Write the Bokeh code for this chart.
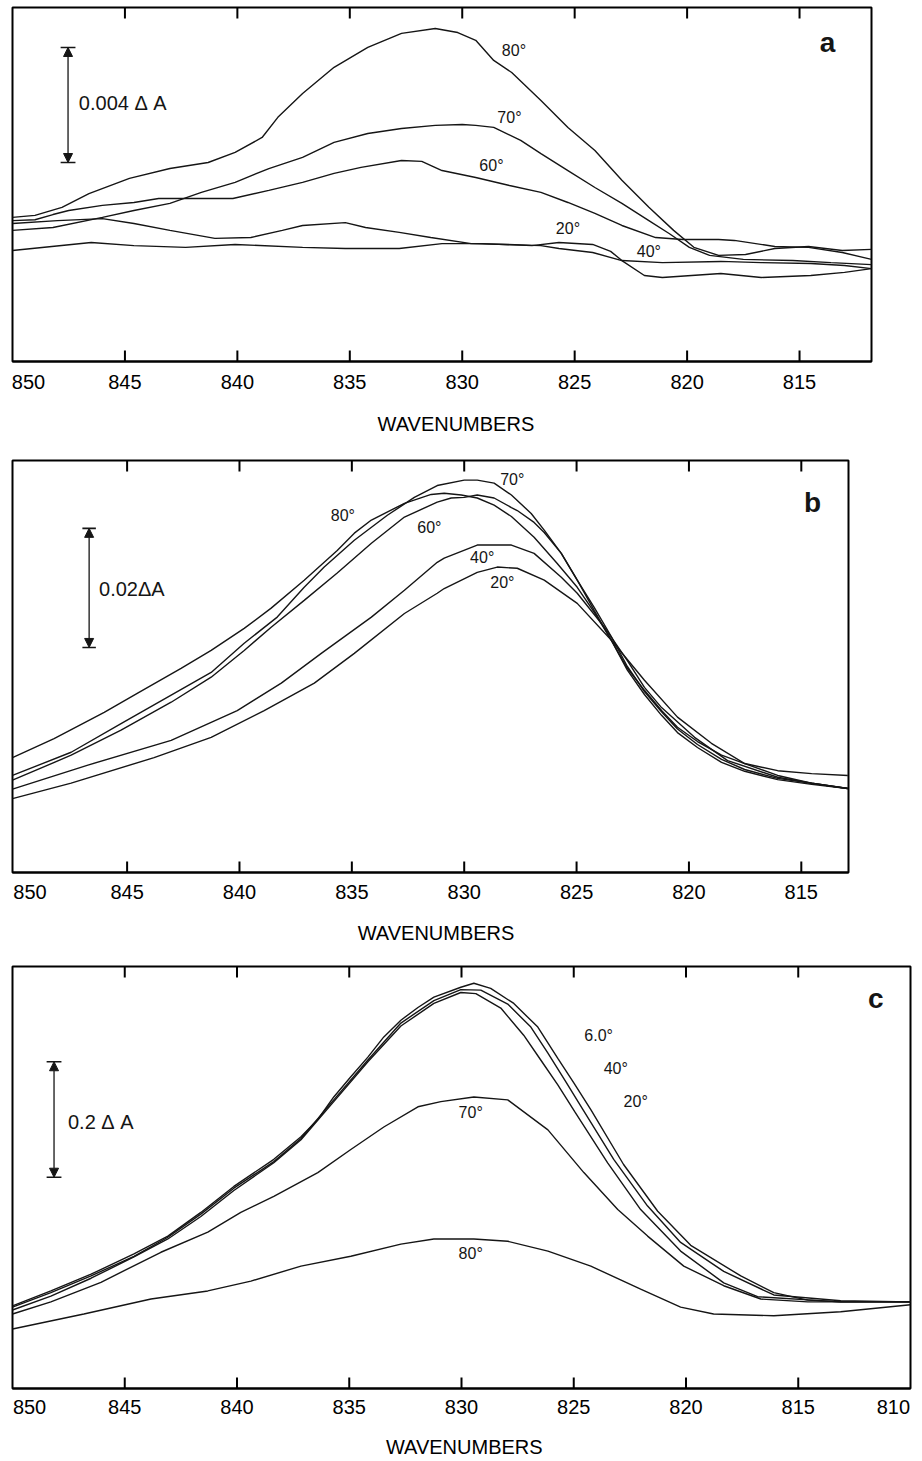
from bokeh.plotting import figure
from bokeh.layouts import column
from bokeh.models import Range1d, FixedTicker, Arrow, NormalHead
from bokeh.core.properties import value
from bokeh.embed import file_html
from bokeh.resources import INLINE

# ---------------- data: panel a (mΔA above frame bottom) ----------------
A_WN_80 = [850.0, 849.0, 847.8, 846.6, 844.8, 843.0, 841.3, 840.1, 838.9, 838.2, 837.1, 835.7, 834.2, 832.7, 831.2, 830.2,
           829.4, 828.6, 827.8, 826.5, 825.3, 824.1, 822.9, 821.7, 820.6, 819.7, 818.6, 817.4, 816.1, 814.6, 813.1, 811.8]
A_80 = [5.01, 5.08, 5.36, 5.84, 6.37, 6.71, 6.92, 7.27, 7.79, 8.49, 9.32, 10.23, 10.92, 11.41, 11.58, 11.44,
        11.17, 10.47, 10.05, 9.08, 8.14, 7.34, 6.30, 5.36, 4.56, 3.97, 3.69, 3.72, 3.93, 4.00, 3.86, 3.90]
A_WN_70 = [850.0, 848.2, 846.0, 844.6, 843.0, 841.6, 840.1, 838.6, 837.1, 835.7, 834.2, 832.7, 831.2, 830.0, 829.4, 828.6,
           827.4, 826.5, 825.3, 824.1, 822.9, 821.7, 820.8, 819.9, 819.0, 817.5, 815.3, 813.6, 811.8]
A_70 = [4.56, 4.66, 5.01, 5.25, 5.50, 5.88, 6.23, 6.71, 7.10, 7.62, 7.93, 8.10, 8.21, 8.24, 8.21, 8.14,
        7.69, 7.23, 6.64, 6.05, 5.50, 4.90, 4.45, 3.97, 3.69, 3.55, 3.51, 3.44, 3.37]
A_WN_60 = [850.0, 849.0, 848.2, 847.5, 846.0, 844.6, 843.5, 841.6, 840.2, 838.6, 837.1, 835.7, 834.5, 832.7, 831.8, 830.9,
           829.4, 827.9, 826.5, 825.3, 824.1, 822.9, 821.4, 820.2, 818.6, 817.9, 816.1, 814.6, 813.1, 811.8]
A_60 = [4.90, 4.93, 5.11, 5.25, 5.43, 5.53, 5.67, 5.67, 5.67, 5.95, 6.23, 6.54, 6.75, 6.99, 6.96, 6.64,
        6.40, 6.12, 5.88, 5.53, 5.15, 4.73, 4.31, 4.24, 4.24, 4.21, 4.00, 3.97, 3.79, 3.55]
A_WN_40 = [850.0, 848.0, 846.0, 844.6, 843.0, 841.0, 839.4, 838.0, 837.1, 835.2, 834.3, 832.8, 831.4, 829.6, 828.0, 826.5,
           825.7, 824.2, 822.9, 821.1, 818.5, 816.7, 814.5, 813.0, 811.8]
A_40 = [4.80, 4.90, 4.97, 4.80, 4.56, 4.28, 4.31, 4.56, 4.73, 4.83, 4.66, 4.49, 4.31, 4.10, 4.07, 4.03,
        3.93, 3.79, 3.51, 3.44, 3.48, 3.44, 3.41, 3.34, 3.23]
A_WN_20 = [850.0, 846.5, 844.6, 842.3, 840.1, 837.1, 835.2, 832.8, 830.9, 829.1, 826.9, 825.7, 824.2, 823.4, 822.9, 821.9,
           821.1, 819.8, 818.5, 816.7, 814.5, 813.0, 811.8]
A_20 = [3.86, 4.14, 4.03, 3.97, 4.07, 3.97, 3.93, 3.93, 4.10, 4.10, 4.03, 4.14, 4.07, 3.83, 3.51, 2.99,
        2.92, 2.99, 3.06, 2.92, 2.99, 3.10, 3.23]

# ---------------- data: panel b (mΔA above frame bottom) ----------------
B_WN_80 = [850.1, 848.25, 846.02, 844.55, 842.60, 841.26, 839.79, 838.59, 837.12, 835.65, 834.89, 834.13, 832.66, 831.47,
           830.89, 830.13, 829.42, 828.67, 827.90, 826.89, 825.86, 824.97, 824.21, 823.45, 822.74, 821.98, 821.22, 820.51,
           819.62, 818.55, 817.52, 816.05, 814.54, 812.93]
B_80 = [19.3, 22.5, 26.9, 30.1, 34.3, 37.3, 41.0, 44.4, 49.1, 54.1, 57.0, 59.2, 62.0, 63.5,
        63.7, 63.4, 62.9, 61.7, 59.8, 56.3, 51.9, 47.9, 43.7, 39.0, 34.3, 30.6, 27.2, 24.4,
        22.0, 19.7, 18.3, 17.1, 16.6, 16.3]
B_WN_70 = [850.1, 847.49, 845.27, 843.04, 841.26, 839.79, 838.32, 837.12, 836.23, 834.89, 833.42, 832.22, 831.20, 830.00,
           829.42, 828.67, 827.90, 827.02, 826.44, 825.68, 824.97, 824.21, 823.45, 822.74, 821.98, 821.22, 820.51, 819.62,
           818.55, 817.52, 816.05, 814.54, 812.93]
B_70 = [16.3, 20.2, 25.0, 29.8, 33.6, 38.5, 42.9, 47.9, 51.3, 55.8, 60.0, 63.0, 65.0, 65.9,
        65.9, 65.4, 63.4, 60.3, 57.5, 53.6, 49.1, 44.5, 39.6, 34.6, 30.4, 27.0, 24.1, 21.5,
        19.0, 17.3, 15.8, 15.0, 14.1]
B_WN_60 = [850.1, 847.49, 845.27, 843.04, 841.26, 839.79, 838.59, 837.12, 835.65, 834.13, 832.66, 831.20, 830.58, 830.00,
           829.42, 828.67, 827.90, 827.64, 826.89, 826.44, 825.68, 824.97, 824.21, 823.45, 822.74, 821.98, 821.22, 820.51,
           819.62, 818.55, 817.52, 816.05, 814.54, 812.93]
B_60 = [15.5, 19.7, 23.9, 28.6, 32.8, 37.3, 41.2, 45.7, 50.3, 55.3, 59.7, 62.2, 62.9, 63.0,
        63.4, 62.9, 61.3, 60.8, 58.8, 57.1, 53.6, 49.1, 44.0, 39.0, 34.0, 29.9, 26.4, 23.5,
        21.0, 18.5, 17.0, 15.6, 14.8, 14.1]
B_WN_40 = [850.1, 846.78, 843.04, 840.10, 838.14, 836.36, 834.13, 832.66, 831.20, 830.89, 829.42, 827.90, 826.89, 825.68,
           824.97, 823.76, 822.74, 821.98, 821.22, 819.75, 818.28, 816.05, 814.54, 812.93]
B_40 = [14.0, 18.0, 22.2, 27.2, 31.8, 36.8, 42.9, 47.4, 52.1, 52.8, 55.0, 55.0, 53.6, 49.6,
        46.9, 41.2, 35.6, 31.1, 27.7, 22.7, 18.8, 16.0, 15.0, 14.1]
B_WN_20 = [850.1, 847.49, 843.80, 841.26, 838.90, 836.67, 834.89, 832.66, 831.20, 830.89, 829.42, 828.53, 827.64, 826.44,
           824.97, 823.45, 821.98, 820.51, 819.00, 817.52, 816.05, 814.54, 812.93]
B_20 = [12.4, 15.0, 19.3, 22.7, 27.2, 31.8, 36.8, 43.5, 46.9, 47.7, 50.4, 51.3, 51.1, 49.1,
        45.2, 39.0, 32.3, 26.1, 21.7, 18.3, 16.3, 15.0, 14.1]

# ---------------- data: panel c (ΔA above frame bottom) ----------------
C_WN_60 = [850.0, 848.29, 846.50, 844.59, 843.08, 841.61, 840.14, 838.36, 837.15, 836.40, 835.69, 834.93, 834.17, 833.46,
           832.70, 831.94, 831.23, 830.03, 829.45, 828.70, 827.67, 826.60, 825.71, 824.99, 824.24, 822.78, 821.26, 819.79,
           817.56, 816.09, 814.58, 813.11, 810.0]
C_60 = [0.143, 0.169, 0.198, 0.233, 0.264, 0.305, 0.350, 0.397, 0.436, 0.466, 0.505, 0.540, 0.574, 0.609,
        0.638, 0.660, 0.678, 0.695, 0.702, 0.693, 0.667, 0.626, 0.572, 0.529, 0.483, 0.388, 0.307, 0.248,
        0.195, 0.166, 0.153, 0.150, 0.150]
C_WN_40 = [850.0, 848.29, 846.50, 844.59, 843.08, 841.61, 840.14, 838.36, 837.15, 835.69, 834.17, 832.70, 831.23, 830.03,
           829.14, 827.94, 826.91, 826.15, 825.35, 824.59, 823.22, 821.71, 820.24, 818.32, 816.09, 813.11, 810.0]
C_40 = [0.141, 0.166, 0.195, 0.229, 0.262, 0.302, 0.347, 0.393, 0.433, 0.500, 0.569, 0.633, 0.672, 0.691,
        0.690, 0.666, 0.626, 0.581, 0.531, 0.483, 0.397, 0.316, 0.253, 0.203, 0.162, 0.152, 0.150]
C_WN_20 = [850.0, 848.29, 846.50, 844.59, 843.08, 841.61, 840.14, 838.36, 837.15, 835.69, 834.17, 832.70, 831.23, 830.03,
           829.36, 828.25, 827.23, 826.47, 825.71, 824.95, 823.49, 822.02, 820.24, 818.32, 816.81, 813.11, 810.0]
C_20 = [0.136, 0.160, 0.191, 0.228, 0.259, 0.298, 0.343, 0.391, 0.431, 0.497, 0.566, 0.628, 0.667, 0.686,
        0.684, 0.659, 0.612, 0.569, 0.526, 0.479, 0.391, 0.310, 0.238, 0.183, 0.159, 0.150, 0.150]
C_WN_70 = [850.0, 848.29, 846.06, 843.39, 841.30, 839.83, 838.36, 836.40, 834.93, 833.46, 831.94, 830.92, 829.45, 827.94,
           826.15, 824.55, 823.04, 821.71, 820.10, 818.32, 816.67, 814.58, 810.0]
C_70 = [0.129, 0.150, 0.184, 0.236, 0.271, 0.305, 0.333, 0.374, 0.414, 0.453, 0.488, 0.497, 0.505, 0.500,
        0.448, 0.374, 0.310, 0.264, 0.212, 0.178, 0.155, 0.150, 0.150]
C_WN_80 = [850.0, 846.82, 843.83, 841.30, 839.38, 837.15, 834.93, 832.70, 831.23, 829.45, 827.94, 826.15, 824.24, 822.02,
           820.24, 818.77, 816.09, 813.11, 810.0]
C_80 = [0.103, 0.129, 0.155, 0.169, 0.186, 0.212, 0.229, 0.250, 0.259, 0.259, 0.255, 0.238, 0.212, 0.172,
        0.141, 0.129, 0.126, 0.133, 0.145]

TICKS_AB = [850, 845, 840, 835, 830, 825, 820, 815]
TICKS_C = [850, 845, 840, 835, 830, 825, 820, 815, 810]
XLABEL = "WAVENUMBERS"

FONT = "Liberation Sans"
INK = "#151515"
NB = "\u00a0"
TICK_PX = 11


def panel(frame_w, frame_h, bl, bt, br, bb, xr, ymax, ticks, edge_shift, xlabel,
          label_standoff, xlabel_standoff):
    p = figure(frame_width=frame_w, frame_height=frame_h,
               x_range=Range1d(*xr), y_range=Range1d(0, ymax),
               output_backend="svg", toolbar_location=None, y_axis_location=None,
               min_border_left=bl, min_border_right=br, min_border_top=bt, min_border_bottom=bb)
    p.background_fill_color = "white"
    p.border_fill_color = "white"
    p.outline_line_color = "black"
    p.outline_line_width = 2
    p.outline_line_alpha = 1
    p.xgrid.grid_line_color = None
    p.ygrid.grid_line_color = None

    # tick labels: labels at the frame edges are nudged inward so they stay on the page
    label_pos, overrides = [], {}
    for t in ticks:
        if t in edge_shift:
            pos = round(t + edge_shift[t], 3)
            overrides[pos] = str(t)
            label_pos.append(pos)
        else:
            label_pos.append(t)
    ax = p.xaxis[0]
    ax.ticker = FixedTicker(ticks=label_pos)
    ax.major_label_overrides = overrides
    ax.major_tick_line_color = None
    ax.major_tick_in = 0
    ax.major_tick_out = 0
    ax.minor_tick_line_color = None
    ax.minor_tick_in = 0
    ax.minor_tick_out = 0
    ax.axis_line_width = 2
    ax.axis_line_color = "black"
    ax.major_label_text_font = FONT
    ax.major_label_text_font_size = "20px"
    ax.major_label_text_color = "black"
    ax.major_label_standoff = label_standoff
    ax.axis_label = xlabel
    ax.axis_label_text_font = FONT
    ax.axis_label_text_font_size = "20px"
    ax.axis_label_text_font_style = "normal"
    ax.axis_label_text_color = "black"
    ax.axis_label_standoff = xlabel_standoff

    # inward tick marks on the bottom and top edges of the frame
    inner = [t for t in ticks if t not in edge_shift]
    n = len(inner)
    tick_len = ymax * TICK_PX / frame_h
    p.segment(x0=inner * 2, x1=inner * 2,
              y0=[0] * n + [ymax] * n, y1=[tick_len] * n + [ymax - tick_len] * n,
              line_color="black", line_width=2)
    return p


def curves(p, sets):
    for xs, ys in sets:
        p.line(xs, ys, line_color=INK, line_width=1.4)


def labels(p, xs, ys, texts, size="16px", style="normal", align="center"):
    p.text(x=xs, y=ys, text=texts, text_font=value(FONT), text_font_size=size,
           text_font_style=style, text_align=align, text_baseline="middle", text_color=INK)


def scale_bar(p, x, y0, y1, cap, text, tx, ty):
    head = dict(size=9, fill_color=INK, line_color=INK, line_width=1)
    p.add_layout(Arrow(start=NormalHead(**head), end=NormalHead(**head),
                       x_start=x, y_start=y0, x_end=x, y_end=y1,
                       line_color=INK, line_width=1.3))
    p.segment(x0=[x - cap, x - cap], y0=[y0, y1], x1=[x + cap, x + cap], y1=[y0, y1],
              line_color=INK, line_width=1.6)
    labels(p, [tx], [ty], [text], size="20px", align="left")


# ---- panel a ----
pa = panel(859, 354, 11, 7, 6, 78, (850, 811.8), 12.31, TICKS_AB, {850: -0.71},
           NB * 5 + XLABEL, 13, 21)
curves(pa, [(A_WN_80, A_80), (A_WN_70, A_70), (A_WN_60, A_60), (A_WN_40, A_40), (A_WN_20, A_20)])
labels(pa, [827.7, 827.9, 828.7, 825.3, 821.7], [10.82, 8.49, 6.82, 4.63, 3.83],
       ["80°", "70°", "60°", "20°", "40°"])
labels(pa, [813.76], [11.1], ["a"], size="28px", style="bold")
scale_bar(pa, 847.53, 6.92, 10.92, 0.33, "0.004" + NB + "Δ" + NB + "A", 847.05, 9.0)

# ---- panel b ----
pb = panel(836, 412, 8, 21, 6, 78, (850.1, 812.9), 69.2, TICKS_AB, {850: -0.68},
           NB * 2 + XLABEL, 12, 20)
curves(pb, [(B_WN_80, B_80), (B_WN_70, B_70), (B_WN_60, B_60), (B_WN_40, B_40), (B_WN_20, B_20)])
labels(pb, [835.4, 831.55, 827.86, 829.2, 828.3], [60.0, 58.0, 66.05, 52.9, 48.7],
       ["80°", "60°", "70°", "40°", "20°"])
labels(pb, [814.5], [62.2], ["b"], size="28px", style="bold")
scale_bar(pb, 846.69, 37.8, 57.8, 0.3, "0.02ΔA", 846.25, 47.7)

# ---- panel c ----
pc = panel(898, 422, 12, 16, 6, 72, (850, 810), 0.731, TICKS_C, {850: -0.76, 810: 0.76},
           NB + XLABEL, 11, 19)
curves(pc, [(C_WN_60, C_60), (C_WN_40, C_40), (C_WN_20, C_20), (C_WN_70, C_70), (C_WN_80, C_80)])
labels(pc, [823.89, 823.13, 822.24, 829.59, 829.59], [0.612, 0.555, 0.498, 0.478, 0.233],
       ["6.0°", "40°", "20°", "70°", "80°"])
labels(pc, [811.55], [0.676], ["c"], size="28px", style="bold")
scale_bar(pc, 848.15, 0.366, 0.566, 0.33, "0.2" + NB + "Δ" + NB + "A", 847.53, 0.462)

page = column(pa, pb, pc, spacing=0)
open("out.html", "w").write(file_html(page, INLINE))
